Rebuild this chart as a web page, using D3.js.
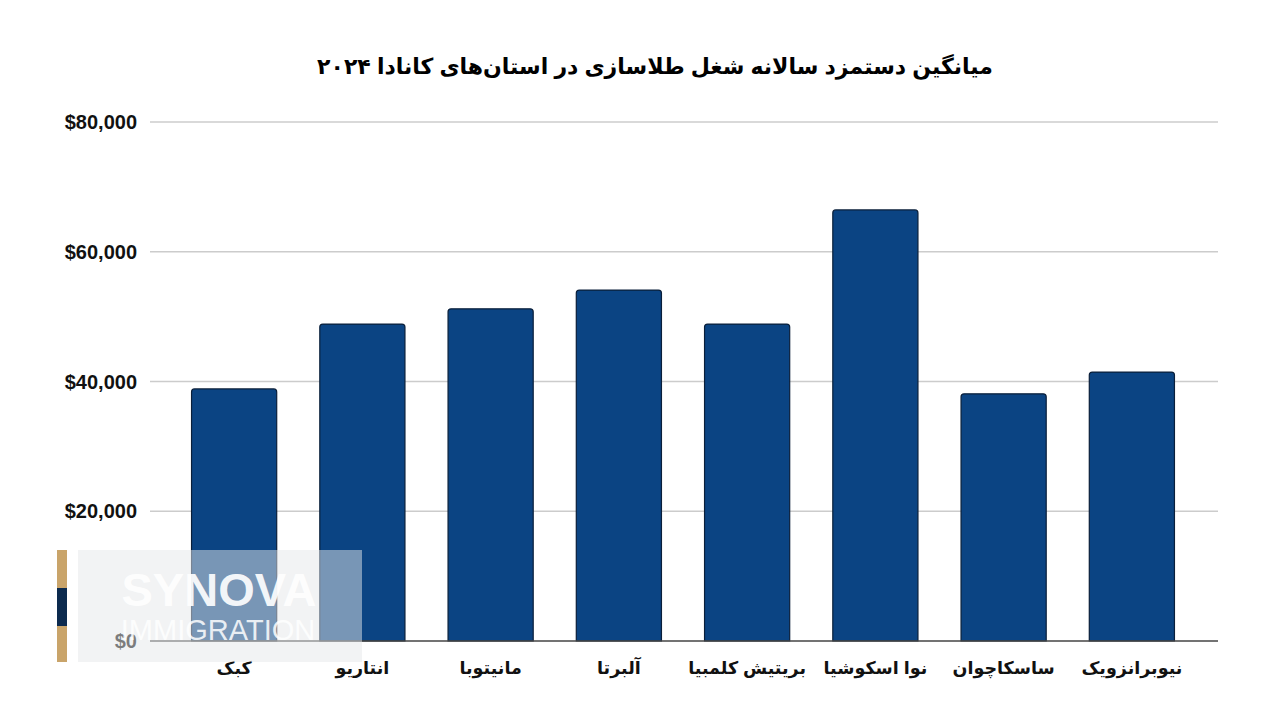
<!DOCTYPE html>
<html><head><meta charset="utf-8">
<script src="https://cdn.jsdelivr.net/npm/d3@7"></script>
<style>body{margin:0;background:#fff}svg{display:block}</style>
</head><body>
<svg id="c" width="1280" height="720"></svg>
<script>
const categories = ["کبک","انتاریو","مانیتوبا","آلبرتا","بریتیش کلمبیا","نوا اسکوشیا","ساسکاچوان","نیوبرانزویک"];
const values = [38850, 48850, 51200, 54100, 48850, 66450, 38100, 41450];
const yTicks = [0, 20000, 40000, 60000, 80000];
const title = "میانگین دستمزد سالانه شغل طلاسازی در استان‌های کانادا ۲۰۲۴";

const svg = d3.select("#c");
const gridX0 = 150, gridX1 = 1218;
const x = d3.scaleBand().domain(categories).range([170, 1196]).paddingInner(0.336).paddingOuter(0.168);
const y = d3.scaleLinear().domain([0, 80000]).range([641, 122]);
const fmt = d3.format(",");

svg.append("text").attr("x", 655).attr("y", 74).attr("text-anchor", "middle")
  .attr("direction", "rtl")
  .style("font-family", "'Liberation Sans', 'DejaVu Sans', sans-serif")
  .style("font-weight", "bold").style("font-size", "22px").attr("fill", "#000")
  .text(title);

// grid
svg.append("g").selectAll("line").data(yTicks.filter(d => d > 0)).join("line")
  .attr("x1", gridX0).attr("x2", gridX1).attr("y1", d => y(d)).attr("y2", d => y(d))
  .attr("stroke", "#cccccc").attr("stroke-width", 1.3);

// y labels
svg.append("g").selectAll("text").data(yTicks).join("text")
  .attr("x", 137).attr("y", d => y(d)).attr("dy", "0.35em").attr("text-anchor", "end")
  .style("font-family", "'Liberation Sans', Arial, sans-serif").style("font-weight", "bold")
  .style("font-size", "20px").attr("fill", "#111").text(d => "$" + fmt(d));

// bars
svg.append("g").selectAll("path").data(values).join("path")
  .attr("d", (d, i) => {
    const x0 = x(categories[i]), w = x.bandwidth(), y0 = y(d), y1 = y(0), r = 3;
    return `M${x0},${y1}V${y0 + r}Q${x0},${y0} ${x0 + r},${y0}H${x0 + w - r}Q${x0 + w},${y0} ${x0 + w},${y0 + r}V${y1}Z`;
  })
  .attr("fill", "#0b4483").attr("stroke", "#0a1f3a").attr("stroke-width", 1.2);

// baseline
svg.append("line").attr("x1", gridX0).attr("x2", gridX1).attr("y1", y(0)).attr("y2", y(0))
  .attr("stroke", "#444").attr("stroke-width", 1.3);

// x labels
svg.append("g").selectAll("text").data(categories).join("text")
  .attr("x", d => x(d) + x.bandwidth() / 2).attr("y", 674).attr("text-anchor", "middle")
  .attr("direction", "rtl")
  .style("font-family", "'Liberation Sans', 'DejaVu Sans', sans-serif").style("font-weight", "bold")
  .style("font-size", "17.5px").attr("fill", "#111").text(d => d);

// watermark
const wm = svg.append("g");
wm.append("rect").attr("x", 78).attr("y", 550).attr("width", 284).attr("height", 112).attr("fill", "rgba(230,231,234,0.5)");
wm.append("rect").attr("x", 57).attr("y", 550).attr("width", 10).attr("height", 38).attr("fill", "#c9a46a");
wm.append("rect").attr("x", 57).attr("y", 588).attr("width", 10).attr("height", 38).attr("fill", "#0c2a4e");
wm.append("rect").attr("x", 57).attr("y", 626).attr("width", 10).attr("height", 36).attr("fill", "#c9a46a");
wm.append("text").attr("x", 219).attr("y", 606).attr("text-anchor", "middle")
  .style("font-family", "'Liberation Sans', Arial, sans-serif").style("font-weight", "bold")
  .style("font-size", "47px").attr("fill", "rgba(255,255,255,0.92)").text("SYNOVA");
wm.append("text").attr("x", 218).attr("y", 640).attr("text-anchor", "middle")
  .style("font-family", "'Liberation Sans', Arial, sans-serif")
  .style("font-size", "29px").attr("fill", "rgba(255,255,255,0.85)").text("IMMIGRATION");
</script>
</body></html>
